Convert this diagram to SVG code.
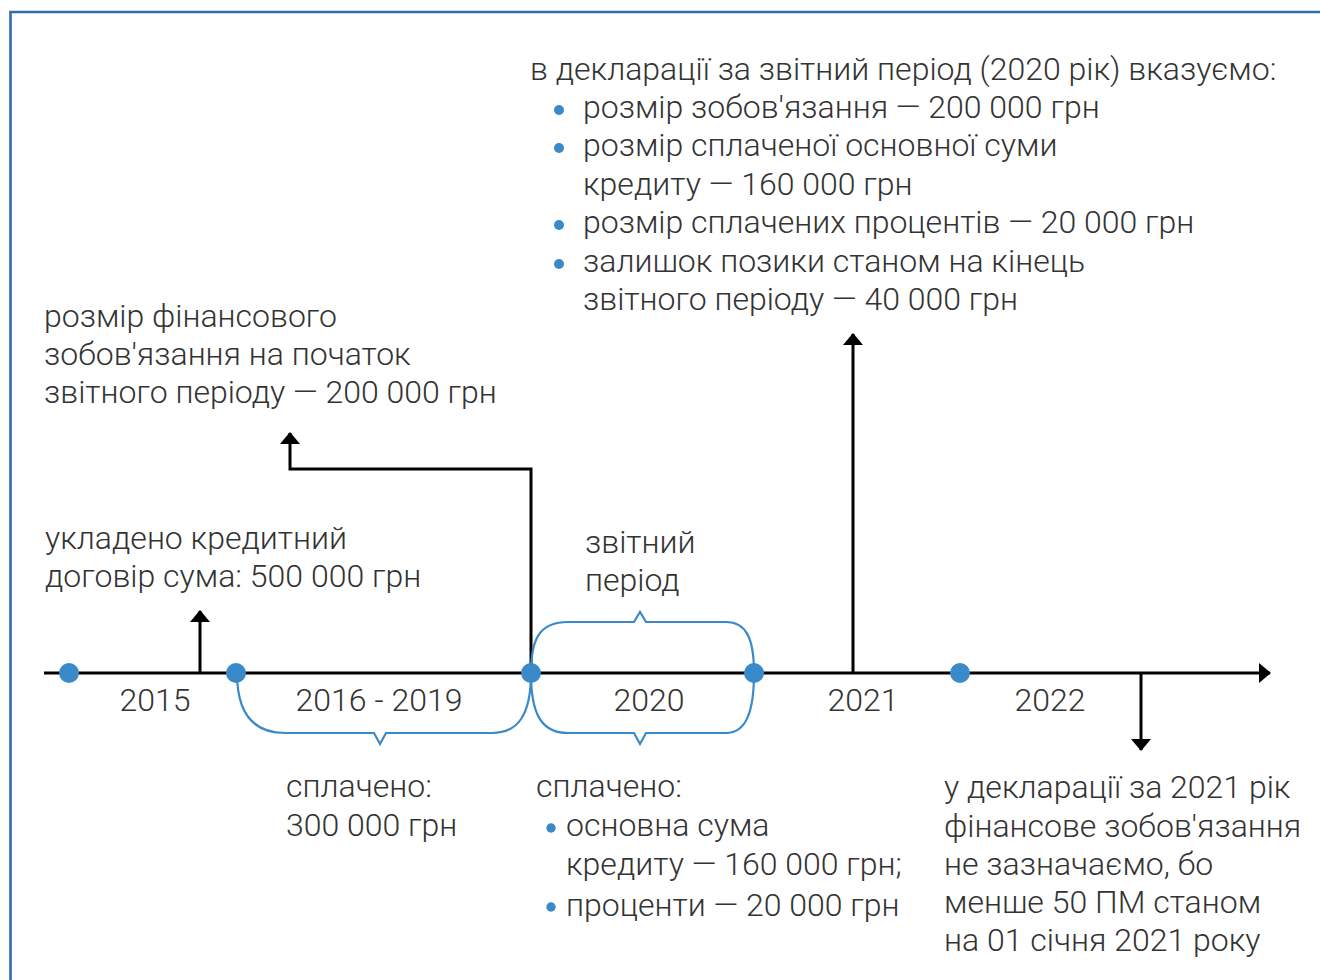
<svg xmlns="http://www.w3.org/2000/svg" width="1320" height="980" viewBox="0 0 1320 980">
<style>
text{font-family:Roboto,"Liberation Sans",sans-serif;font-weight:300;font-size:32px;fill:#333}
.c{text-anchor:middle}
.ln{stroke:#000;stroke-width:3;fill:none}
.br{stroke:#3a8ac9;stroke-width:2.2;fill:none}
.dot{fill:#3a8ac9}
</style>
<defs>
<marker id="ah" viewBox="0 0 12 20" refX="11" refY="10" markerWidth="12" markerHeight="20" markerUnits="userSpaceOnUse" orient="auto">
<path d="M0,0 L12,10 L0,20 Z" fill="#000"/>
</marker>
</defs>
<rect width="1320" height="980" fill="#fff"/>
<path d="M10.5,980 V12 H1320" fill="none" stroke="#2e6dad" stroke-width="2.6"/>

<g id="connectors">
<path class="ln" d="M44,673 H1270" marker-end="url(#ah)"/>
<path class="ln" d="M200,673 V611" marker-end="url(#ah)"/>
<path class="ln" d="M531,673 V469 H290 V433" marker-end="url(#ah)"/>
<path class="ln" d="M853,673 V334" marker-end="url(#ah)"/>
<path class="ln" d="M1141,673 V750" marker-end="url(#ah)"/>
</g>

<g id="braces">
<path class="br" d="M237,673 C237,715 255,733 285,733 H374 L380,744 L386,733 H492 C518,733 531,715 531,673"/>
<path class="br" d="M531,673 C531,638 540,622 568,622 H634 L640,612 L646,622 H726 C746,622 754,638 754,673"/>
<path class="br" d="M531,673 C531,712 540,733 568,733 H634 L640,744 L646,733 H726 C746,733 754,712 754,673"/>
</g>

<g id="dots">
<circle class="dot" cx="69" cy="673" r="10"/>
<circle class="dot" cx="236" cy="673" r="10"/>
<circle class="dot" cx="531" cy="673" r="10"/>
<circle class="dot" cx="754" cy="673" r="10"/>
<circle class="dot" cx="960" cy="673" r="10"/>
</g>

<g id="year-labels">
<text class="c" x="155" y="711">2015</text>
<text class="c" x="379" y="711">2016 - 2019</text>
<text class="c" x="649" y="711">2020</text>
<text class="c" x="863" y="711">2021</text>
<text class="c" x="1050" y="711">2022</text>
</g>

<g id="declaration-2020">
<text x="530" y="80">в декларації за звітний період (2020 рік) вказуємо:</text>
<circle class="dot" cx="559" cy="110" r="5"/>
<text x="583" y="118">розмір зобов'язання — 200 000 грн</text>
<circle class="dot" cx="559" cy="148" r="5"/>
<text x="583" y="156">розмір сплаченої основної суми</text>
<text x="583" y="195">кредиту — 160 000 грн</text>
<circle class="dot" cx="559" cy="225" r="5"/>
<text x="583" y="233">розмір сплачених процентів — 20 000 грн</text>
<circle class="dot" cx="559" cy="264" r="5"/>
<text x="583" y="272">залишок позики станом на кінець</text>
<text x="583" y="310">звітного періоду — 40 000 грн</text>
</g>

<g id="initial-liability">
<text x="44" y="327">розмір фінансового</text>
<text x="44" y="365">зобов'язання на початок</text>
<text x="44" y="403">звітного періоду — 200 000 грн</text>
</g>

<g id="contract">
<text x="45" y="549">укладено кредитний</text>
<text x="45" y="587">договір сума: 500 000 грн</text>
</g>

<g id="reporting-period">
<text x="585" y="553">звітний</text>
<text x="585" y="591">період</text>
</g>

<g id="paid-2016-2019">
<text x="286" y="797">сплачено:</text>
<text x="286" y="836">300 000 грн</text>
</g>

<g id="paid-2020">
<text x="536" y="797">сплачено:</text>
<circle class="dot" cx="551" cy="828" r="4.7"/>
<text x="566" y="836">основна сума</text>
<text x="566" y="875">кредиту — 160 000 грн;</text>
<circle class="dot" cx="551" cy="907" r="4.7"/>
<text x="566" y="916">проценти — 20 000 грн</text>
</g>

<g id="declaration-2021">
<text x="944" y="798">у декларації за 2021 рік</text>
<text x="944" y="837">фінансове зобов'язання</text>
<text x="944" y="875">не зазначаємо, бо</text>
<text x="944" y="913">менше 50 ПМ станом</text>
<text x="944" y="951">на 01 січня 2021 року</text>
</g>
</svg>
